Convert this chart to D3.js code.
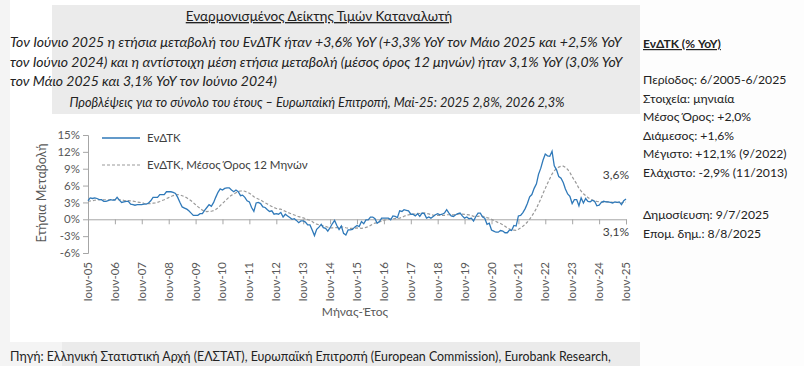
<!DOCTYPE html>
<html>
<head>
<meta charset="utf-8">
<script src="https://cdn.jsdelivr.net/npm/d3@7"></script>
<style>
  body { margin: 0; background: #fff; }
  svg { display: block; font-family: Lato, "Open Sans", sans-serif; }
</style>
</head>
<body>
<svg id="chart"></svg>
<script>
// monthly data, Jun 2005 - Jun 2025
var startYear = 2005, startMonth = 5;

var hicpYoY = [
  3.3, 3.8, 3.7, 3.8, 3.7, 3.5, 3.5,
  3.2, 3.2, 3.3, 3.5, 3.4, 3.4, 3.9, 3.4, 3.0, 3.1, 3.2, 3.2,
  2.7, 2.6, 2.5, 2.6, 2.6, 2.6, 2.7, 2.7, 2.9, 3.3, 3.9, 3.9,
  3.9, 4.4, 4.4, 4.4, 4.9, 4.9, 4.9, 4.8, 4.6, 3.9, 3.0, 2.2,
  2.0, 1.8, 1.5, 1.1, 0.7, 0.7, 0.7, 1.0, 1.0, 1.6, 2.1, 2.6,
  2.3, 3.0, 3.9, 4.8, 5.4, 5.2, 5.5, 5.6, 5.6, 5.2, 4.9, 5.2,
  4.9, 4.2, 4.3, 3.9, 3.3, 3.1, 2.1, 1.4, 2.9, 3.0, 2.8, 2.2,
  2.1, 1.7, 1.4, 1.5, 0.9, 1.0, 0.9, 1.2, 0.4, 0.9, 0.6, 0.3,
  0.0, 0.1, -0.2, -0.6, -0.3, -0.3, -0.5, -1.0, -1.0, -1.9, -2.9, -1.8,
  -1.4, -0.9, -1.5, -1.6, -2.1, -1.5, -0.8, -0.2, -1.1, -1.8, -1.2, -2.5,
  -2.8, -1.9, -1.9, -1.8, -1.4, -1.1, -1.3, -0.4, -0.8, -0.1, -0.1, 0.4,
  0.4, 0.1, -0.7, -0.4, 0.2, 0.2, 0.2, 0.2, -0.1, 0.6, 0.5, 0.3,
  1.5, 1.4, 1.7, 1.6, 1.5, 0.9, 0.9, 0.6, 1.0, 0.5, 1.1, 1.0,
  0.2, 0.4, 0.2, 0.5, 0.8, 1.0, 0.8, 0.9, 1.1, 1.7, 1.1, 0.6,
  0.5, 0.8, 1.0, 1.1, 0.6, 0.2, 0.4, 0.1, 0.2, -0.3, 0.5, 1.1,
  1.1, 0.4, 0.2, -0.9, -0.7, -1.9, -2.1, -2.3, -2.3, -2.0, -2.1, -2.4,
  -2.4, -1.9, -2.0, -1.1, -1.2, 0.6, 0.7, 1.2, 1.9, 2.8, 4.0, 4.4,
  5.5, 6.3, 8.0, 9.1, 10.5, 11.6, 11.3, 11.2, 12.1, 9.5, 8.8, 7.6,
  7.3, 6.5, 5.4, 4.5, 4.1, 2.8, 3.5, 3.5, 2.4, 3.8, 2.9, 3.7,
  3.2, 3.1, 3.4, 3.2, 2.4, 2.5, 3.0, 3.2, 3.1, 3.1, 3.0, 2.9,
  3.1, 3.0, 3.1, 2.6, 3.3, 3.6
];

var hicpAvg12 = [
  3.19, 3.25, 3.32, 3.39, 3.43, 3.48, 3.51,
  3.48, 3.48, 3.48, 3.48, 3.49, 3.50, 3.51, 3.48, 3.42, 3.37, 3.34, 3.32,
  3.28, 3.23, 3.16, 3.08, 3.02, 2.95, 2.85, 2.79, 2.78, 2.80, 2.86, 2.92,
  3.02, 3.17, 3.33, 3.48, 3.67, 3.86, 4.04, 4.22, 4.36, 4.41, 4.33, 4.19,
  4.03, 3.82, 3.58, 3.30, 2.95, 2.60, 2.25, 1.93, 1.63, 1.44, 1.37, 1.40,
  1.43, 1.53, 1.73, 2.03, 2.43, 2.80, 3.20, 3.58, 3.97, 4.27, 4.50, 4.72,
  4.93, 5.03, 5.07, 4.99, 4.82, 4.64, 4.36, 4.01, 3.78, 3.60, 3.43, 3.18,
  2.94, 2.73, 2.49, 2.29, 2.09, 1.92, 1.82, 1.80, 1.59, 1.42, 1.23, 1.08,
  0.90, 0.77, 0.63, 0.46, 0.36, 0.25, 0.13, -0.05, -0.17, -0.40, -0.69, -0.87,
  -0.98, -1.07, -1.18, -1.26, -1.41, -1.51, -1.53, -1.47, -1.48, -1.47, -1.33, -1.38,
  -1.50, -1.58, -1.62, -1.63, -1.58, -1.54, -1.58, -1.60, -1.58, -1.43, -1.34, -1.10,
  -0.83, -0.67, -0.57, -0.45, -0.32, -0.21, -0.08, -0.03, 0.03, 0.08, 0.13, 0.13,
  0.22, 0.33, 0.53, 0.69, 0.80, 0.86, 0.92, 0.95, 1.04, 1.03, 1.08, 1.14,
  1.03, 0.95, 0.83, 0.73, 0.68, 0.68, 0.68, 0.70, 0.71, 0.81, 0.81, 0.78,
  0.80, 0.83, 0.90, 0.95, 0.93, 0.87, 0.83, 0.77, 0.69, 0.53, 0.48, 0.52,
  0.57, 0.53, 0.47, 0.30, 0.19, 0.02, -0.19, -0.39, -0.60, -0.74, -0.96, -1.25,
  -1.54, -1.73, -1.92, -1.93, -1.98, -1.77, -1.53, -1.24, -0.89, -0.49, 0.02, 0.58,
  1.24, 1.93, 2.76, 3.61, 4.58, 5.50, 6.38, 7.22, 8.07, 8.63, 9.03, 9.29,
  9.44, 9.46, 9.24, 8.86, 8.33, 7.59, 6.94, 6.30, 5.49, 5.02, 4.53, 4.20,
  3.86, 3.58, 3.41, 3.30, 3.16, 3.13, 3.09, 3.07, 3.13, 3.07, 3.08, 3.01,
  3.00, 2.99, 2.97, 2.92, 2.99, 3.08
];

var yTicks = [-6, -3, 0, 3, 6, 9, 12, 15];
var tickYears = d3.range(2005, 2026);
var seriesNames = ['ΕνΔΤΚ', 'ΕνΔΤΚ, Μέσος Όρος 12 Μηνών'];

var headerTitle = 'Εναρμονισμένος Δείκτης Τιμών Καταναλωτή';
var headerLines = [
  'Τον Ιούνιο 2025 η ετήσια μεταβολή του ΕνΔΤΚ ήταν +3,6% YoY (+3,3% YoY τον Μάιο 2025 και +2,5% YoY',
  'τον Ιούνιο 2024) και η αντίστοιχη μέση ετήσια μεταβολή (μέσος όρος 12 μηνών) ήταν 3,1% YoY (3,0% YoY',
  'τον Μάιο 2025 και 3,1% YoY τον Ιούνιο 2024)'
];
var forecastLine = 'Προβλέψεις για το σύνολο του έτους – Ευρωπαϊκή Επιτροπή,  Μαϊ-25: 2025 2,8%, 2026 2,3%';
var sideTitle = 'ΕνΔΤΚ (% YoY)';
var sideLines = [
  'Περίοδος: 6/2005-6/2025',
  'Στοιχεία: μηνιαία',
  'Μέσος Όρος: +2,0%',
  'Διάμεσος: +1,6%',
  'Μέγιστο: +12,1% (9/2022)',
  'Ελάχιστο: -2,9% (11/2013)'
];
var sideDates = ['Δημοσίευση: 9/7/2025', 'Επομ. δημ.: 8/8/2025'];
var sourceText = 'Πηγή: Ελληνική Στατιστική Αρχή (ΕΛΣΤΑΤ), Ευρωπαϊκή Επιτροπή (European Commission), Eurobank Research,';

var width = 804;
var height = 366;

var svg = d3.select('#chart')
  .attr('width', width)
  .attr('height', height);

// backgrounds
svg.append('rect').attr('x', 0).attr('y', 0).attr('width', 640).attr('height', height).attr('fill', '#f4f4f4');
svg.append('rect').attr('x', 10).attr('y', 0).attr('width', 630).attr('height', 342).attr('fill', '#fff');
svg.append('rect').attr('x', 52).attr('y', 5).attr('width', 588).attr('height', 109).attr('fill', '#ebebeb');
svg.append('rect').attr('x', 62).attr('y', 342).attr('width', 578).attr('height', 24).attr('fill', '#ebebeb');
svg.append('rect').attr('x', 640).attr('y', 0).attr('width', 164).attr('height', height).attr('fill', '#fdfdfd');

// header texts
svg.append('text')
  .attr('x', 319).attr('y', 21)
  .attr('text-anchor', 'middle')
  .style('font-size', '13.5px')
  .style('text-decoration', 'underline')
  .attr('fill', '#222')
  .text(headerTitle);

svg.selectAll('.hline')
  .data(headerLines)
  .enter()
  .append('text')
    .attr('class', 'hline')
    .attr('x', 10)
    .attr('y', (d, i) => 47 + i * 19.5)
    .style('font-size', '14px')
    .style('font-style', 'italic')
    .attr('fill', '#222')
    .text(d => d);

svg.append('text')
  .attr('x', 317).attr('y', 107)
  .attr('text-anchor', 'middle')
  .style('font-size', '12.75px')
  .style('font-style', 'italic')
  .attr('fill', '#222')
  .text(forecastLine);

// scales
var dates = hicpYoY.map((d, i) => new Date(startYear, startMonth + i, 1));

var xScale = d3.scaleTime()
  .domain([dates[0], dates[dates.length - 1]])
  .range([88, 626]);

var yScale = d3.scaleLinear()
  .domain([-6, 15])
  .range([253, 135]);

var axisColor = '#a6a6a6';

// y axis
var yAxis = d3.axisLeft(yScale)
  .tickValues(yTicks)
  .tickSize(5)
  .tickFormat(d => d + '%');

var gy = svg.append('g')
  .attr('transform', 'translate(88,0)')
  .call(yAxis);
gy.select('.domain').attr('stroke', axisColor);
gy.selectAll('.tick line').attr('stroke', axisColor);
gy.selectAll('.tick text')
  .attr('fill', '#595959')
  .style('font-size', '11.5px')
  .style('font-family', 'Lato, sans-serif');

// x axis at zero
var xTickDates = tickYears.map(y => new Date(y, 5, 1));
var xAxis = d3.axisBottom(xScale)
  .tickValues(xTickDates)
  .tickSize(5)
  .tickFormat('');

var gx = svg.append('g')
  .attr('transform', `translate(0,${yScale(0)})`)
  .call(xAxis);
gx.select('.domain').attr('stroke', axisColor);
gx.selectAll('.tick line').attr('stroke', axisColor);

// x tick labels at the bottom, rotated
svg.selectAll('.xlab')
  .data(tickYears)
  .enter()
  .append('text')
    .attr('class', 'xlab')
    .attr('transform', d => `translate(${xScale(new Date(d, 5, 1)) + 4},262) rotate(-90)`)
    .attr('text-anchor', 'end')
    .style('font-size', '11.5px')
    .attr('fill', '#595959')
    .text(d => 'Ιουν-' + String(d).slice(2));

// axis titles
svg.append('text')
  .attr('x', 355).attr('y', 316)
  .attr('text-anchor', 'middle')
  .style('font-size', '12px')
  .attr('fill', '#595959')
  .text('Μήνας-Έτος');

svg.append('text')
  .attr('transform', 'translate(46,193) rotate(-90)')
  .attr('text-anchor', 'middle')
  .style('font-size', '12.5px')
  .attr('fill', '#595959')
  .text('Ετήσια Μεταβολή');

// lines
var line = d3.line()
  .x((d, i) => xScale(dates[i]))
  .y(d => yScale(d));

svg.append('path')
  .datum(hicpAvg12)
  .attr('d', line)
  .attr('fill', 'none')
  .attr('stroke', '#9a9a9a')
  .attr('stroke-width', 1.2)
  .attr('stroke-dasharray', '3,2');

svg.append('path')
  .datum(hicpYoY)
  .attr('d', line)
  .attr('fill', 'none')
  .attr('stroke', '#2f79b9')
  .attr('stroke-width', 1.3);

// end labels
svg.append('text')
  .attr('x', 629).attr('y', 179)
  .attr('text-anchor', 'end')
  .style('font-size', '12px')
  .attr('fill', '#404040')
  .text('3,6%');

svg.append('text')
  .attr('x', 629).attr('y', 236)
  .attr('text-anchor', 'end')
  .style('font-size', '12px')
  .attr('fill', '#404040')
  .text('3,1%');

// legend
var legend = svg.append('g');
legend.append('line')
  .attr('x1', 102).attr('x2', 140).attr('y1', 138).attr('y2', 138)
  .attr('stroke', '#2f79b9').attr('stroke-width', 1.3);
legend.append('line')
  .attr('x1', 102).attr('x2', 140).attr('y1', 165).attr('y2', 165)
  .attr('stroke', '#9a9a9a').attr('stroke-width', 1.2).attr('stroke-dasharray', '3,2');
legend.selectAll('text')
  .data(seriesNames)
  .enter()
  .append('text')
    .attr('x', 147)
    .attr('y', (d, i) => 142 + i * 27)
    .style('font-size', '11.5px')
    .attr('fill', '#404040')
    .text(d => d);

// side panel
svg.append('text')
  .attr('x', 643).attr('y', 48)
  .style('font-size', '12px')
  .style('font-weight', 'bold')
  .style('text-decoration', 'underline')
  .attr('fill', '#222')
  .text(sideTitle);

svg.selectAll('.side')
  .data(sideLines)
  .enter()
  .append('text')
    .attr('class', 'side')
    .attr('x', 643)
    .attr('y', (d, i) => 84 + i * 18.5)
    .style('font-size', '12.2px')
    .attr('fill', '#222')
    .text(d => d);

svg.selectAll('.sided')
  .data(sideDates)
  .enter()
  .append('text')
    .attr('class', 'sided')
    .attr('x', 643)
    .attr('y', (d, i) => 219 + i * 19)
    .style('font-size', '12.2px')
    .attr('fill', '#222')
    .text(d => d);

// source
svg.append('text')
  .attr('x', 10).attr('y', 361)
  .style('font-size', '12.4px')
  .attr('fill', '#222')
  .text(sourceText);
</script>
</body>
</html>
